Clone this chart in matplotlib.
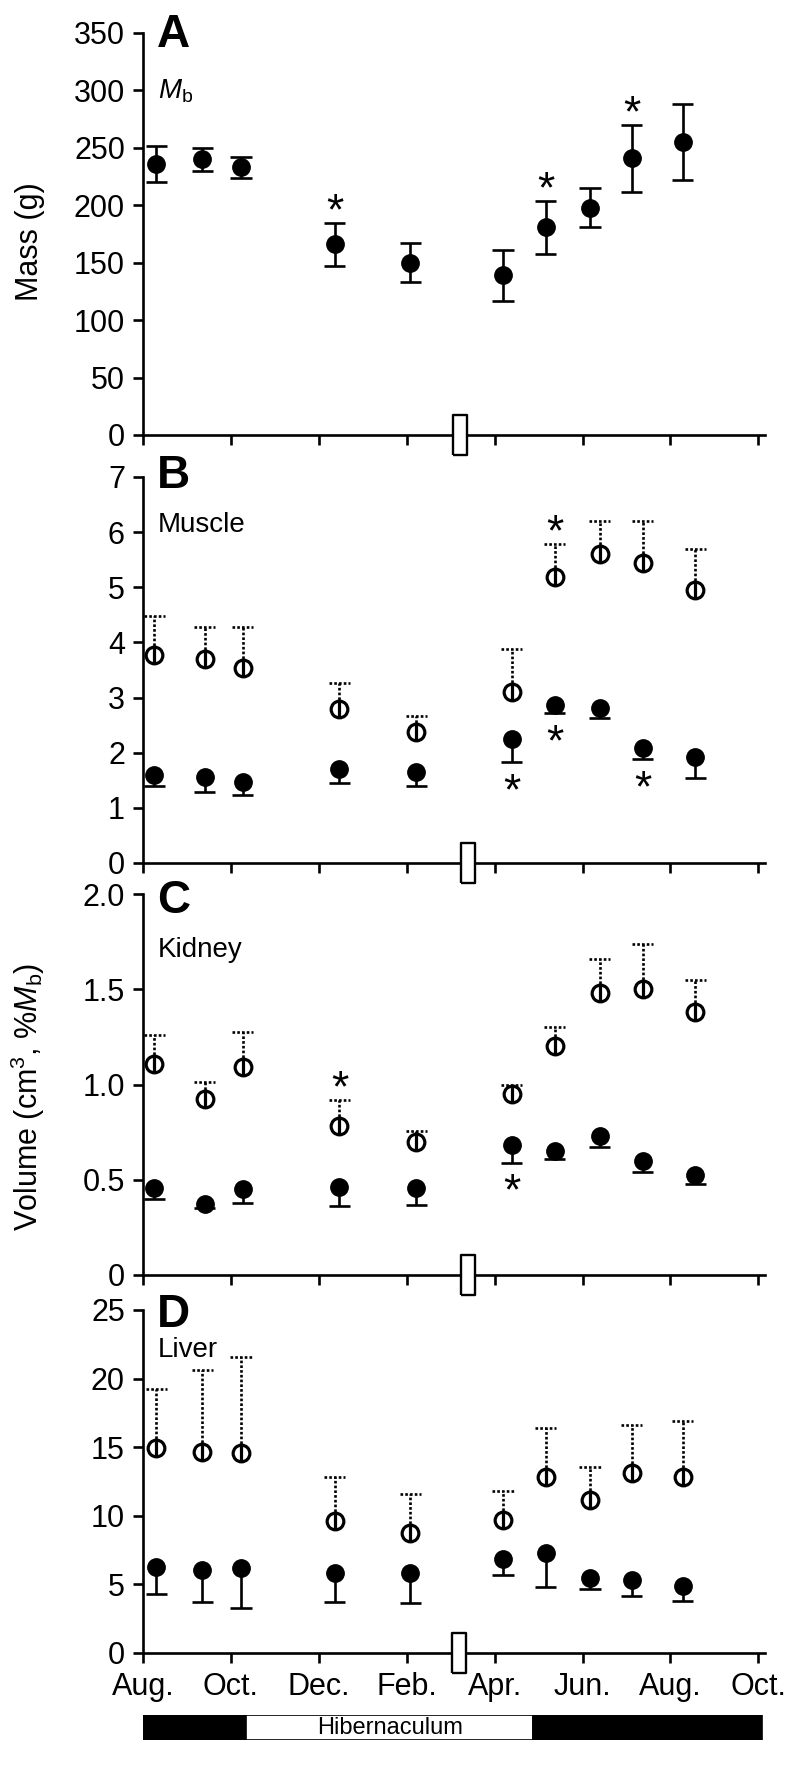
import numpy as np
import matplotlib
matplotlib.use('Agg')
import matplotlib.pyplot as plt

plt.rcParams['font.family'] = ['Liberation Sans', 'DejaVu Sans']
plt.rcParams['mathtext.fontset'] = 'custom'
plt.rcParams['mathtext.rm'] = 'Liberation Sans'
plt.rcParams['mathtext.it'] = 'Liberation Sans:italic'

# x axis in months counted from Aug. (0) to Oct. of the next year (14)
month_ticks = [0, 2, 4, 6, 8, 10, 12, 14]
month_labels = ['Aug.', 'Oct.', 'Dec.', 'Feb.', 'Apr.', 'Jun.', 'Aug.', 'Oct.']

# sampling dates (months since Aug.)
dates_ad = [0.30, 1.35, 2.23, 4.36, 6.08, 8.19, 9.16, 10.17, 11.12, 12.28]
dates_bc = [0.26, 1.40, 2.27, 4.47, 6.22, 8.39, 9.37, 10.39, 11.37, 12.56]

# hibernaculum entry marker, one per panel
hib_mark = [7.22, 7.39, 7.39, 7.20]

# A - body mass (g), mean +/- s.e.m.
mass = [236, 240, 233, 166, 150, 139, 181, 198, 241, 255]
mass_err = [16, 10, 9, 19, 17, 22, 23, 17, 29, 33]
mass_star = [3, 6, 8]

# B - muscle (cm3, %Mb)
muscle_open = [3.77, 3.70, 3.54, 2.79, 2.38, 3.10, 5.19, 5.61, 5.44, 4.95]
muscle_open_err = [0.71, 0.58, 0.74, 0.48, 0.29, 0.78, 0.60, 0.60, 0.77, 0.75]
muscle_filled = [1.60, 1.56, 1.47, 1.71, 1.65, 2.25, 2.87, 2.81, 2.09, 1.92]
muscle_filled_err = [0.20, 0.27, 0.24, 0.26, 0.25, 0.42, 0.15, 0.18, 0.21, 0.38]
muscle_open_star = [6]
muscle_filled_star = [5, 6, 8]

# C - kidney
kidney_open = [1.11, 0.925, 1.09, 0.78, 0.70, 0.95, 1.20, 1.48, 1.50, 1.38]
kidney_open_err = [0.15, 0.09, 0.185, 0.14, 0.055, 0.05, 0.10, 0.18, 0.24, 0.17]
kidney_filled = [0.457, 0.373, 0.45, 0.46, 0.457, 0.68, 0.65, 0.73, 0.60, 0.525]
kidney_filled_err = [0.057, 0.023, 0.07, 0.10, 0.09, 0.09, 0.04, 0.06, 0.06, 0.045]
kidney_open_star = [3]
kidney_filled_star = [5]

# D - liver
liver_open = [14.94, 14.65, 14.6, 9.6, 8.75, 9.7, 12.8, 11.15, 13.1, 12.8]
liver_open_err = [4.3, 5.95, 7.0, 3.2, 2.85, 2.1, 3.6, 2.4, 3.5, 4.1]
liver_filled = [6.3, 6.05, 6.2, 5.85, 5.85, 6.85, 7.3, 5.5, 5.3, 4.9]
liver_filled_err = [2.0, 2.35, 2.9, 2.15, 2.2, 1.15, 2.5, 0.8, 1.15, 1.1]

# season bar under the x axis
season_edges = [-0.09, 2.35, 8.88, 14.08]
season_colors = ['black', 'white', 'black']
season_text = 'Hibernaculum'

CAP = 0.24
LW = 1.9
DOT = (0, (1, 0.8))
box = [(-6.5, -20), (6.5, -20), (6.5, 20), (-6.5, 20), (-6.5, -20)]


def open_series(ax, x, y, err):
    x = np.array(x); y = np.array(y); top = y + np.array(err)
    ax.vlines(x, y, top, colors='k', linestyles=DOT, lw=LW, zorder=2)
    ax.hlines(top, x - CAP, x + CAP, colors='k', linestyles=DOT, lw=LW, zorder=2)
    ax.plot(x, y, 'o', ms=12, mfc='white', mec='k', mew=2.3, zorder=4)
    ax.plot(x, y, '|', ms=12, mec='k', mew=2.3, zorder=5)
    return x, top


def filled_series(ax, x, y, err, both=False):
    x = np.array(x); y = np.array(y); err = np.array(err)
    lo = y - err
    hi = y + err if both else y
    ax.vlines(x, lo, hi, colors='k', lw=LW, zorder=2)
    ax.hlines(lo, x - CAP, x + CAP, colors='k', lw=LW, zorder=2)
    if both:
        ax.hlines(hi, x - CAP, x + CAP, colors='k', lw=LW, zorder=2)
    ax.plot(x, y, 'o', ms=12.5, color='k', zorder=4)
    return x, lo, hi


def stars(ax, x, yend, idx, above):
    for i in idx:
        ax.annotate('*', (x[i], yend[i]), xytext=(0, 7 if above else -22),
                    textcoords='offset points', ha='center', va='center',
                    fontsize=32)


def setup(ax, ymax, step, labels, letter, letter_y, organ, organ_y, hib_x):
    ax.set_xlim(0, 14.15)
    ax.set_ylim(0, ymax)
    for s in ['top', 'right']:
        ax.spines[s].set_visible(False)
    for s in ['left', 'bottom']:
        ax.spines[s].set_linewidth(LW)
    ax.set_xticks(month_ticks)
    ax.set_xticklabels([])
    ax.set_yticks(np.arange(0, ymax + step / 2, step))
    ax.set_yticklabels(labels)
    ax.tick_params(direction='out', length=7, width=LW, labelsize=22, pad=6)
    ax.plot([hib_x], [0], marker=box, ms=29, mfc='white', mec='k', mew=1.7,
            clip_on=False, zorder=6, ls='none')
    ax.text(0.022, letter_y, letter, transform=ax.transAxes, fontsize=33,
            fontweight='bold', va='baseline', clip_on=False)
    ax.text(0.024, organ_y, organ, transform=ax.transAxes, fontsize=20,
            va='baseline')


fig = plt.figure(figsize=(7.86, 17.80), dpi=100)
L, W = 143 / 786, 622 / 786
H = 1780
axA = fig.add_axes([L, 1 - 435 / H, W, 402 / H])
axB = fig.add_axes([L, 1 - 863 / H, W, 386 / H])
axC = fig.add_axes([L, 1 - 1275 / H, W, 381 / H])
axD = fig.add_axes([L, 1 - 1653 / H, W, 343 / H])
axS = fig.add_axes([L, 1 - 1740 / H, W, 25 / H])

# A
x, lo, hi = filled_series(axA, dates_ad, mass, mass_err, both=True)
stars(axA, x, hi, mass_star, True)
setup(axA, 350, 50, [str(v) for v in range(0, 351, 50)], 'A', 0.965,
      r'$M_\mathrm{b}$', 0.838, hib_mark[0])

# B
x, top = open_series(axB, dates_bc, muscle_open, muscle_open_err)
stars(axB, x, top, muscle_open_star, True)
x, lo, hi = filled_series(axB, dates_bc, muscle_filled, muscle_filled_err)
stars(axB, x, lo, muscle_filled_star, False)
setup(axB, 7, 1, [str(v) for v in range(8)], 'B', 0.9715, 'Muscle', 0.8575,
      hib_mark[1])

# C
x, top = open_series(axC, dates_bc, kidney_open, kidney_open_err)
stars(axC, x, top, kidney_open_star, True)
x, lo, hi = filled_series(axC, dates_bc, kidney_filled, kidney_filled_err)
stars(axC, x, lo, kidney_filled_star, False)
setup(axC, 2.0, 0.5, ['0', '0.5', '1.0', '1.5', '2.0'], 'C', 0.95, 'Kidney',
      0.8346, hib_mark[2])

# D
open_series(axD, dates_ad, liver_open, liver_open_err)
filled_series(axD, dates_ad, liver_filled, liver_filled_err)
setup(axD, 25, 5, [str(v) for v in range(0, 26, 5)], 'D', 0.95, 'Liver',
      0.863, hib_mark[3])
axD.set_xticklabels(month_labels)
axD.tick_params(axis='x', pad=7)

# season bar
widths = np.diff(season_edges)
axS.barh([0], widths, left=season_edges[:-1], height=1, color=season_colors,
         edgecolor='k', lw=1.2)
axS.text((season_edges[1] + season_edges[2]) / 2, 0, season_text, ha='center',
         va='center', fontsize=17)
axS.set_xlim(0, 14.15)
axS.set_ylim(-0.5, 0.5)
axS.axis('off')

fig.text(30 / 786, 1 - 242 / H, 'Mass (g)', rotation=90, ha='center',
         va='center', fontsize=22)
fig.text(28 / 786, 1 - 1097 / H, r'Volume (cm$^3$, %$M_\mathrm{b}$)',
         rotation=90, ha='center', va='center', fontsize=22)

fig.savefig('out.png', dpi=100)
